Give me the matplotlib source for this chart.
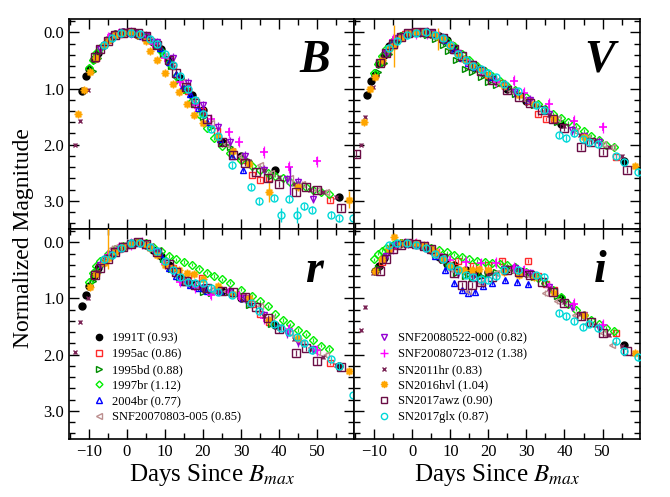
import numpy as np
import matplotlib.pyplot as plt
from matplotlib.lines import Line2D
from matplotlib.ticker import MultipleLocator, FormatStrFormatter

nan = np.nan

# ---- light curves (days since B max, normalized mag) ----
d_91T = [-11.8, -10.8, -9.9, -8.7, -7.5, -6.0, -4.5, -3.0, -1.0, 1.0, 3.0, 5.0, 7.0, 9.0, 11.0, 14.0, 17.0, 20.0, 25.0, 30.0, 39.0, 55.7]
B_91T = [1.05, 0.78, 0.66, 0.48, 0.36, 0.22, 0.11, 0.03, 0.0, 0.01, 0.04, 0.09, 0.17, 0.30, 0.50, 0.82, 1.12, 1.38, 1.95, 2.20, 2.45, 2.93]
V_91T = [1.12, 0.87, 0.76, 0.55, 0.40, 0.25, 0.14, 0.06, 0.01, 0.0, 0.0, 0.03, 0.07, 0.14, 0.28, 0.50, 0.63, 0.78, 1.01, 1.22, 1.64, 2.30]
r_91T = [1.14, 0.93, 0.77, 0.60, 0.45, 0.32, 0.24, 0.16, 0.09, 0.03, 0.0, 0.04, 0.13, 0.24, 0.41, 0.62, 0.75, 0.82, 0.86, 1.0, 1.47, 2.20]
i_91T = [nan, nan, 0.51, 0.42, 0.28, 0.13, 0.05, 0.02, 0.01, 0.03, 0.07, 0.14, 0.26, 0.38, 0.40, 0.50, 0.55, 0.52, 0.48, 0.55, 1.00, 1.82]

d_95ac = [-8.0, -5.0, -2.0, 1.0, 4.0, 8.0, 12.0, 16.0, 19.8, 23.7, 30.5, 33.0, 35.1, 37.3, 53.5]
B_95ac = [0.45, 0.14, 0.03, 0.0, 0.05, 0.22, 0.60, 1.05, 1.40, 1.75, 2.28, 2.54, 2.63, 2.59, 2.98]
V_95ac = [0.52, 0.18, 0.03, 0.0, 0.01, 0.10, 0.36, 0.58, 0.76, 0.90, 1.22, 1.45, 1.54, 1.55, 2.22]
r_95ac = [0.55, 0.26, 0.12, 0.03, 0.01, 0.17, 0.45, 0.60, 0.64, 0.85, 0.98, 1.10, 1.28, 1.41, 2.15]
i_95ac = [0.35, 0.06, 0.01, 0.03, 0.10, 0.30, 0.34, 0.42, 0.40, 0.34, 0.33, 0.60, 0.75, 0.84, 1.62]

d_95bd = [-9.0, -7.5, -6.0, -4.0, -2.0, 0.0, 2.0, 4.0, 6.0, 8.0, 9.5, 11.5, 13.8, 15.6, 18.0, 20.0, 22.0, 27.0, 32.0, 38.0]
B_95bd = [0.68, 0.45, 0.25, 0.10, 0.03, 0.0, 0.02, 0.06, 0.12, 0.25, 0.38, 0.60, 0.85, 1.02, 1.26, 1.50, 1.68, 2.05, 2.30, 2.55]
V_95bd = [0.71, 0.55, 0.38, 0.17, 0.06, 0.02, 0.01, 0.04, 0.12, 0.22, 0.33, 0.50, 0.65, 0.71, 0.80, 0.89, 0.93, 1.10, 1.30, 1.60]
r_95bd = [0.68, 0.52, 0.38, 0.24, 0.14, 0.06, 0.02, 0.01, 0.08, 0.18, 0.30, 0.48, 0.62, 0.70, 0.78, 0.88, 0.90, 0.88, 1.12, 1.45]
i_95bd = [0.45, 0.28, 0.14, 0.04, 0.02, 0.02, 0.05, 0.10, 0.20, 0.32, 0.42, 0.55, 0.60, 0.62, 0.60, 0.56, 0.52, 0.50, 0.62, 0.96]

d_97br = [-10, -9, -8, -7, -5, -3, -1, 1, 3, 5, 7, 9, 11, 13, 15, 17, 19, 21, 23, 25, 27, 30, 33, 35, 37, 39, 41, 43, 45, 47, 49, 51, 53]
B_97br = [0.63, 0.50, 0.36, 0.27, 0.12, 0.04, 0.01, 0.0, 0.03, 0.08, 0.18, 0.33, 0.55, 0.78, 1.00, 1.22, 1.45, 1.70, 1.88, 2.02, 2.15, 2.28, 2.38, 2.45, 2.50, 2.55, 2.60, 2.66, 2.72, 2.76, 2.80, 2.84, 2.88]
V_97br = [0.72, 0.56, 0.42, 0.30, 0.16, 0.06, 0.01, 0.0, 0.01, 0.03, 0.08, 0.15, 0.25, 0.38, 0.50, 0.60, 0.68, 0.77, 0.86, 0.95, 1.03, 1.16, 1.28, 1.36, 1.45, 1.52, 1.60, 1.68, 1.76, 1.84, 1.92, 2.00, 2.04]
r_97br = [0.70, 0.55, 0.42, 0.33, 0.20, 0.12, 0.06, 0.02, 0.0, 0.02, 0.08, 0.15, 0.24, 0.30, 0.35, 0.40, 0.47, 0.54, 0.60, 0.66, 0.72, 0.84, 0.95, 1.05, 1.14, 1.28, 1.38, 1.46, 1.56, 1.64, 1.74, 1.84, 1.90]
i_97br = [0.30, 0.20, 0.15, 0.10, 0.04, 0.02, 0.02, 0.03, 0.06, 0.10, 0.14, 0.18, 0.22, 0.26, 0.30, 0.33, 0.35, 0.37, 0.38, 0.40, 0.44, 0.52, 0.64, 0.72, 0.84, 0.97, 1.10, 1.20, 1.30, 1.38, 1.46, 1.52, 1.58]

d_04br = [-5, -2, 0, 2, 4, 6, 8.6, 11, 13, 14.7, 16.5, 18.7, 21, 24.4, 27.5, 30.5]
B_04br = [0.12, 0.02, 0.0, 0.02, 0.06, 0.12, 0.28, 0.52, 0.75, 0.95, 1.10, 1.35, 1.60, 1.90, 2.20, 2.45]
V_04br = [0.15, 0.03, 0.0, 0.0, 0.01, 0.05, 0.14, 0.32, 0.46, 0.55, 0.62, 0.70, 0.80, 0.95, 1.08, 1.20]
r_04br = [0.25, 0.10, 0.05, 0.01, 0.01, 0.08, 0.20, 0.45, 0.60, 0.70, 0.76, 0.82, 0.86, 0.86, 0.90, 1.00]
i_04br = [0.05, 0.01, 0.02, 0.05, 0.10, 0.25, 0.49, 0.72, 0.85, 0.90, 0.88, 0.78, 0.72, 0.67, 0.70, 0.74]

d_0803 = [-6, -4, -2, 0, 3, 6, 10, 14.7, 18, 22, 26, 30, 34.9, 38, 42.8, 46, 50, 52.4]
B_0803 = [0.20, 0.06, 0.01, 0.0, 0.04, 0.14, 0.42, 0.88, 1.20, 1.62, 1.98, 2.20, 2.37, 2.50, 2.60, 2.70, 2.80, 2.84]
V_0803 = [0.24, 0.10, 0.03, 0.0, 0.01, 0.05, 0.20, 0.55, 0.68, 0.86, 1.04, 1.20, 1.40, 1.55, 1.75, 1.88, 1.98, 2.05]
r_0803 = [0.27, 0.10, 0.04, 0.02, 0.01, 0.10, 0.33, 0.70, 0.76, 0.84, 0.86, 0.95, 1.14, 1.35, 1.62, 1.80, 1.96, 2.00]
i_0803 = [0.12, 0.06, 0.03, 0.04, 0.10, 0.22, 0.48, 0.87, 0.72, 0.55, 0.50, 0.56, 0.90, 1.05, 1.29, 1.45, 1.62, 1.82]

d_0522 = [-7, -4, -1, 2, 5, 8, 12, 16, 20, 24, 27, 31, 36, 42, 45, 49]
B_0522 = [0.30, 0.06, 0.0, 0.01, 0.06, 0.18, 0.45, 0.90, 1.30, 1.68, 1.95, 2.20, 2.45, 2.62, 2.66, 2.96]
V_0522 = [0.36, 0.10, 0.02, 0.0, 0.02, 0.10, 0.36, 0.58, 0.78, 0.95, 1.06, 1.20, 1.45, 1.74, 1.85, 1.95]
r_0522 = [0.40, 0.20, 0.10, 0.01, 0.04, 0.17, 0.50, 0.72, 0.82, 0.86, 0.88, 1.00, 1.30, 1.62, 1.78, 1.90]
i_0522 = [0.25, 0.05, 0.02, 0.04, 0.14, 0.30, 0.55, 0.60, 0.54, 0.48, 0.45, 0.55, 0.80, 1.15, 1.30, 1.52]

d_0723 = [-5, -2, 1, 4, 7, 10, 14, 18, 22, 26.8, 29.4, 36, 42.6, 50]
B_0723 = [0.10, 0.02, 0.0, 0.06, 0.20, 0.45, 0.88, 1.30, 1.55, 1.78, 1.95, 2.13, 2.40, 2.30]
V_0723 = [0.13, 0.04, 0.02, 0.01, 0.08, 0.25, 0.50, 0.68, 0.88, 0.86, 1.08, 1.27, 1.57, 1.69]
r_0723 = [0.22, 0.10, 0.03, 0.01, 0.12, 0.38, 0.70, 0.80, 0.93, 0.88, 0.95, 1.35, 1.55, 1.92]
i_0723 = [0.10, 0.02, 0.02, 0.08, 0.20, 0.32, 0.35, 0.37, 0.36, 0.45, 0.50, 0.80, 1.10, 1.47]

d_11hr = [-13.5, -12.3, -10.3, -8, -5, -2, 1, 4, 8, 12, 16, 20, 24, 28, 32, 36, 40, 44, 48, 51.6, 55]
B_11hr = [2.00, 1.57, 1.02, 0.50, 0.14, 0.02, 0.0, 0.05, 0.24, 0.62, 1.04, 1.42, 1.82, 2.10, 2.30, 2.45, 2.58, 2.70, 2.80, 2.85, 2.93]
V_11hr = [2.00, 1.50, 0.98, 0.50, 0.16, 0.04, 0.0, 0.01, 0.10, 0.36, 0.58, 0.76, 0.95, 1.12, 1.30, 1.48, 1.67, 1.82, 1.93, 2.05, 2.20]
r_11hr = [1.96, 1.41, 1.00, 0.52, 0.24, 0.10, 0.03, 0.01, 0.18, 0.48, 0.72, 0.82, 0.86, 0.92, 1.10, 1.32, 1.52, 1.72, 1.90, 2.05, 2.18]
i_11hr = [1.57, 1.15, 0.55, 0.28, 0.06, 0.01, 0.03, 0.10, 0.32, 0.50, 0.58, 0.55, 0.50, 0.50, 0.62, 0.82, 1.06, 1.27, 1.48, 1.65, 1.85]

d_16hvl = [-12.8, -11.2, -9.8, -8, -6, -4.7, -3, -1, 1, 3, 5, 6.2, 8, 10, 12, 13.6, 15.8, 17.6, 20, 24, 28, 32, 37.3, 45, 58.5]
B_16hvl = [1.46, 1.02, 0.70, 0.45, 0.22, 0.13, 0.05, 0.01, 0.0, 0.05, 0.15, 0.33, 0.50, 0.72, 0.92, 1.07, 1.27, 1.48, 1.62, 1.86, 2.12, 2.35, 2.84, 2.75, 2.98]
V_16hvl = [1.59, 1.01, 0.80, 0.50, 0.30, 0.24, 0.10, 0.02, 0.0, 0.0, 0.03, 0.06, 0.12, 0.24, 0.38, 0.48, 0.58, 0.66, 0.76, 0.95, 1.12, 1.28, 1.52, 1.86, 2.38]
r_16hvl = [nan, nan, 0.80, 0.56, 0.36, 0.28, 0.18, 0.09, 0.03, 0.0, 0.04, 0.10, 0.22, 0.40, 0.46, 0.50, 0.54, 0.57, 0.66, 0.78, 0.92, 1.00, 1.38, 1.70, 2.29]
i_16hvl = [nan, nan, 0.51, 0.30, 0.12, -0.09, 0.02, 0.01, 0.02, 0.05, 0.12, 0.18, 0.30, 0.40, 0.47, 0.49, 0.49, 0.48, 0.50, 0.52, 0.58, 0.61, 0.90, 1.30, 1.97]

d_17awz = [-14.7, -8.5, -7, -5, -3, -1, 1, 3, 5, 8, 11, 13, 15.6, 18, 21, 25, 28, 31, 34, 37, 40, 44.4, 47, 50, 56.4]
B_17awz = [nan, 0.43, 0.30, 0.15, 0.05, 0.02, 0.0, 0.02, 0.07, 0.22, 0.50, 0.72, 0.98, 1.25, 1.55, 1.95, 2.18, 2.32, 2.48, 2.60, 2.70, 2.85, 2.75, 2.80, 3.12]
V_17awz = [2.16, 0.54, 0.36, 0.20, 0.08, 0.02, 0.0, 0.0, 0.02, 0.10, 0.30, 0.42, 0.58, 0.68, 0.84, 1.02, 1.15, 1.25, 1.38, 1.55, 1.70, 2.04, 1.95, 2.13, 2.45]
r_17awz = [nan, 0.58, 0.45, 0.30, 0.18, 0.09, 0.03, 0.0, 0.03, 0.18, 0.38, 0.52, 0.68, 0.76, 0.82, 0.86, 0.88, 0.98, 1.15, 1.35, 1.55, 1.97, 1.88, 2.12, 2.22]
i_17awz = [nan, 0.51, 0.30, 0.12, 0.04, 0.02, 0.03, 0.06, 0.12, 0.28, 0.55, 0.76, 0.76, 0.70, 0.61, 0.49, 0.52, 0.58, 0.70, 0.88, 1.08, 1.32, 1.42, 1.62, 1.94]

d_17glx = [-6, -4, -1.5, 1, 3.5, 6, 8, 10, 12, 14, 16, 18, 20, 22, 24, 27.7, 32.5, 34.7, 38.6, 40.4, 42.6, 44.8, 46.5, 48.7, 53.6, 55.7, 59.3]
B_17glx = [0.22, 0.10, 0.02, 0.01, 0.03, 0.12, 0.20, 0.38, 0.58, 0.78, 1.00, 1.20, 1.45, 1.72, 1.85, 2.37, 2.75, 3.01, 2.95, 3.25, 2.96, 3.25, 3.10, 3.16, 3.25, 3.31, 3.31]
V_17glx = [0.28, 0.15, 0.05, 0.02, 0.0, 0.04, 0.10, 0.22, 0.38, 0.50, 0.60, 0.66, 0.72, 0.80, 0.92, 1.05, 1.30, 1.38, 1.83, 1.89, 1.80, 1.90, 1.95, 1.98, 2.20, 2.31, 2.48]
r_17glx = [0.30, 0.22, 0.10, 0.02, 0.01, 0.08, 0.15, 0.33, 0.50, 0.62, 0.70, 0.72, 0.72, 0.82, 0.88, 0.93, 1.08, 1.22, 1.45, 1.52, 1.60, 1.68, 1.80, 1.92, 2.08, 2.20, 2.72]
i_17glx = [0.05, 0.02, 0.02, 0.04, 0.10, 0.20, 0.30, 0.42, 0.49, 0.58, 0.62, 0.65, 0.67, 0.60, 0.49, 0.50, 0.58, 0.61, 1.26, 1.32, 1.40, 1.50, 1.45, 1.53, 1.75, 1.94, 2.05]

labels = ["1991T (0.93)", "1995ac (0.86)", "1995bd (0.88)", "1997br (1.12)", "2004br (0.77)",
          "SNF20070803-005 (0.85)", "SNF20080522-000 (0.82)", "SNF20080723-012 (1.38)",
          "SN2011hr (0.83)", "SN2016hvl (1.04)", "SN2017awz (0.90)", "SN2017glx (0.87)"]
typ_err = [0.02, 0.04, 0.03, 0.03, 0.04, 0.05, 0.08, 0.10, 0.03, 0.04, 0.06, 0.06]

# a few points with big error bars
big_band = ["V", "V", "r", "B", "B", "B", "B", "B"]
big_day = [-4.7, 6.8, -5.0, 37.3, 58.5, 43.0, 40.4, 44.8]
big_mag = [0.24, 0.12, 0.10, 2.84, 2.98, 2.65, 3.25, 3.25]
big_err = [0.37, 0.20, 0.38, 0.18, 0.15, 0.25, 0.12, 0.14]
big_col = ["#ffa500", "#ffa500", "#ffa500", "#ffa500", "#ffa500", "#9400d3", "#00d8d8", "#00d8d8"]

sne = [
    (d_91T, B_91T, V_91T, r_91T, i_91T),
    (d_95ac, B_95ac, V_95ac, r_95ac, i_95ac),
    (d_95bd, B_95bd, V_95bd, r_95bd, i_95bd),
    (d_97br, B_97br, V_97br, r_97br, i_97br),
    (d_04br, B_04br, V_04br, r_04br, i_04br),
    (d_0803, B_0803, V_0803, r_0803, i_0803),
    (d_0522, B_0522, V_0522, r_0522, i_0522),
    (d_0723, B_0723, V_0723, r_0723, i_0723),
    (d_11hr, B_11hr, V_11hr, r_11hr, i_11hr),
    (d_16hvl, B_16hvl, V_16hvl, r_16hvl, i_16hvl),
    (d_17awz, B_17awz, V_17awz, r_17awz, i_17awz),
    (d_17glx, B_17glx, V_17glx, r_17glx, i_17glx),
]

# styles
colors = ["black", "#ff2a2a", "#008c00", "#00ee00", "#0000ff", "#bc8f8f",
          "#9400d3", "#ff00ff", "#7a2355", "#ffa500", "#6a0d45", "#00d8d8"]
markers = ["o", "s", ">", "D", "^", "<", "v", "+", "x", (8, 1, 0), "s", "o"]
filled = [True, False, False, False, False, False, False, True, True, True, False, False]
sizes = [5, 4.5, 4.5, 4, 4.5, 5, 5, 6, 3.5, 5.5, 5.5, 5]

plt.rcParams['font.family'] = ['Liberation Serif', 'DejaVu Serif']
plt.rcParams['mathtext.fontset'] = 'stix'

fig, axs = plt.subplots(2, 2, figsize=(6.7, 4.97), dpi=100, sharex=True, sharey=True)
fig.subplots_adjust(left=0.103, right=0.955, top=0.962, bottom=0.117, wspace=0, hspace=0)
band_ax = {"B": axs[0, 0], "V": axs[0, 1], "r": axs[1, 0], "i": axs[1, 1]}

for k, sn in enumerate(sne):
    days = np.array(sn[0], dtype=float)
    for b, mags in zip("BVri", sn[1:]):
        ax = band_ax[b]
        mfc = colors[k] if filled[k] else "none"
        ax.errorbar(days, np.array(mags, dtype=float), yerr=typ_err[k], fmt="none",
                    ecolor=colors[k], elinewidth=0.9, capsize=0, alpha=0.9, zorder=2 + k * 0.1)
        ax.plot(days, mags, ls="none", marker=markers[k], ms=sizes[k], mfc=mfc,
                mec=colors[k], mew=1.2 if k == 7 else 1.0, zorder=2.05 + k * 0.1)

for b, d, m, e, c in zip(big_band, big_day, big_mag, big_err, big_col):
    band_ax[b].errorbar([d], [m], yerr=[e], fmt="none", ecolor=c, elinewidth=1.0, capsize=0, zorder=3)

for b, ax in band_ax.items():
    ax.set_xlim(-15.2, 59.8)
    ax.set_ylim(3.5, -0.24)
    ax.xaxis.set_major_locator(MultipleLocator(10))
    ax.xaxis.set_minor_locator(MultipleLocator(5))
    ax.yaxis.set_major_locator(MultipleLocator(1))
    ax.yaxis.set_minor_locator(MultipleLocator(0.2))
    ax.yaxis.set_major_formatter(FormatStrFormatter("%.1f"))
    ax.tick_params(which="both", direction="in", top=True, right=True, labelsize=12, width=1.0)
    ax.tick_params(which="major", length=7)
    ax.tick_params(which="minor", length=4)
    for s in ax.spines.values():
        s.set_linewidth(1.2)
    ax.text(0.86, 0.80, b, transform=ax.transAxes, fontsize=33, fontweight="bold",
            fontstyle="italic", ha="center", va="center")

for ax in axs[1]:
    ax.set_xlabel(r"Days Since $B_{max}$", fontsize=18, labelpad=2)
fig.text(0.035, 0.52, "Normalized Magnitude", rotation=90, fontsize=17, ha="center", va="center")

handles = []
for k in range(12):
    mfc = colors[k] if filled[k] else "none"
    handles.append(Line2D([], [], ls="none", marker=markers[k], ms=sizes[k] - 0.5, mfc=mfc,
                          mec=colors[k], mew=1.0, label=labels[k]))
for ax, hs in [(axs[1, 0], handles[:6]), (axs[1, 1], handles[6:])]:
    ax.legend(handles=hs, loc="lower left", bbox_to_anchor=(0.06, 0.045), frameon=False,
              fontsize=9, handlelength=1.0, handletextpad=0.6, labelspacing=0.3, borderpad=0)

fig.savefig("out.png", dpi=100)
